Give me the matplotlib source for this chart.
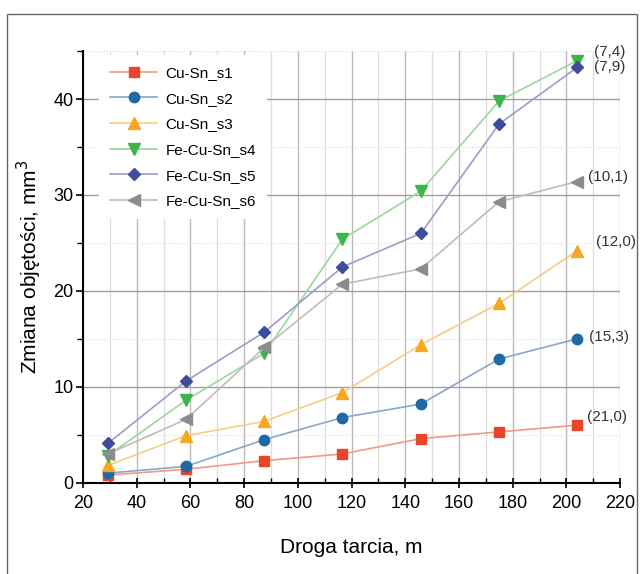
import matplotlib.pyplot as plt
from matplotlib.patches import Rectangle
from matplotlib.ticker import MultipleLocator

plt.rcParams['font.family'] = ['Liberation Sans', 'DejaVu Sans']

# dane
droga = [29.2, 58.3, 87.5, 116.6, 145.8, 174.9, 204.0]
s1 = [0.8, 1.4, 2.3, 3.0, 4.6, 5.3, 6.0]
s2 = [1.0, 1.7, 4.5, 6.8, 8.2, 12.9, 15.0]
s3 = [1.8, 4.9, 6.4, 9.4, 14.4, 18.7, 24.2]
s4 = [2.8, 8.6, 13.5, 25.4, 30.4, 39.8, 44.0]
s5 = [4.1, 10.6, 15.7, 22.5, 26.0, 37.4, 43.3]
s6 = [3.0, 6.6, 14.1, 20.7, 22.3, 29.3, 31.4]
nazwy = ['Cu-Sn_s1', 'Cu-Sn_s2', 'Cu-Sn_s3', 'Fe-Cu-Sn_s4', 'Fe-Cu-Sn_s5', 'Fe-Cu-Sn_s6']
etykiety = ['(21,0)', '(15,3)', '(12,0)', '(7,4)', '(7,9)', '(10,1)']

serie = [s1, s2, s3, s4, s5, s6]
markery = ['s', 'o', '^', 'v', 'D', '<']
kolory = ['#e8462a', '#1f6aa5', '#f7a823', '#3db54a', '#3e4c9e', '#8c8c8c']
kolory_linii = ['#f09a85', '#8aa6c8', '#f7cc85', '#9ad79d', '#9c9cc8', '#bdbdbd']
rozmiary = [7, 7.5, 8.5, 8.5, 6, 8.5]

fig = plt.figure(figsize=(6.44, 5.74), dpi=100)
ax = fig.add_axes([0.129, 0.159, 0.834, 0.752])

for y, m, c, lc, ms, n in zip(serie, markery, kolory, kolory_linii, rozmiary, nazwy):
    ax.plot(droga, y, color=lc, lw=1.2, marker=m, markersize=ms,
            markerfacecolor=c, markeredgecolor=c, label=n, zorder=3)

# podpisy na końcach serii (przesunięcia w punktach)
przes = [(7, 6), (8.5, 1), (13.5, 6.5), (12, 6), (12, 0.5), (8, 3.5)]
for y, e, (dx, dy) in zip(serie, etykiety, przes):
    ax.annotate(e, (droga[-1], y[-1]), xytext=(dx, dy), textcoords='offset points',
                fontsize=11, ha='left', va='center', color='#333333',
                annotation_clip=False)

ax.set_xlim(20, 220)
ax.set_ylim(0, 45)
ax.xaxis.set_major_locator(MultipleLocator(20))
ax.xaxis.set_minor_locator(MultipleLocator(10))
ax.yaxis.set_major_locator(MultipleLocator(10))
ax.yaxis.set_minor_locator(MultipleLocator(5))

ax.grid(True, which='major', axis='y', color='#a69c9c', lw=1.0)
ax.grid(True, which='minor', axis='y', color='#dddddd', lw=0.8, ls=':')
ax.grid(True, which='major', axis='x', color='#c0b8b8', lw=1.0)
ax.grid(True, which='minor', axis='x', color='#e0dcdc', lw=0.9)
ax.set_axisbelow(True)

for s in ['top', 'right']:
    ax.spines[s].set_visible(False)
for s in ['left', 'bottom']:
    ax.spines[s].set_linewidth(1.5)

ax.tick_params(axis='x', which='major', direction='inout', length=7, width=1.2,
               labelsize=13, pad=5)
ax.tick_params(axis='x', which='minor', direction='in', length=3.5, width=1.0)
ax.tick_params(axis='y', which='major', direction='out', length=5, width=1.2,
               labelsize=13, pad=2)
ax.tick_params(axis='y', which='minor', direction='out', length=4, width=1.0)

ax.set_xlabel('Droga tarcia, m', fontsize=15, labelpad=19)
ax.set_ylabel('Zmiana objętości, mm$^3$', fontsize=15, labelpad=7)

leg = ax.legend(loc='upper left', bbox_to_anchor=(0.03, 0.99), frameon=True, fontsize=11,
                handlelength=3.1, handletextpad=0.55, labelspacing=0.76,
                borderpad=0.7, borderaxespad=0)
leg.get_frame().set_facecolor('white')
leg.get_frame().set_edgecolor('none')
leg.get_frame().set_alpha(1)

# ramka wokół rysunku
fig.patches.append(Rectangle((0.011, -0.05), 0.978, 1.026, transform=fig.transFigure,
                             fill=False, edgecolor='#666666', lw=1.0))

plt.savefig('out.png')
plt.close()
